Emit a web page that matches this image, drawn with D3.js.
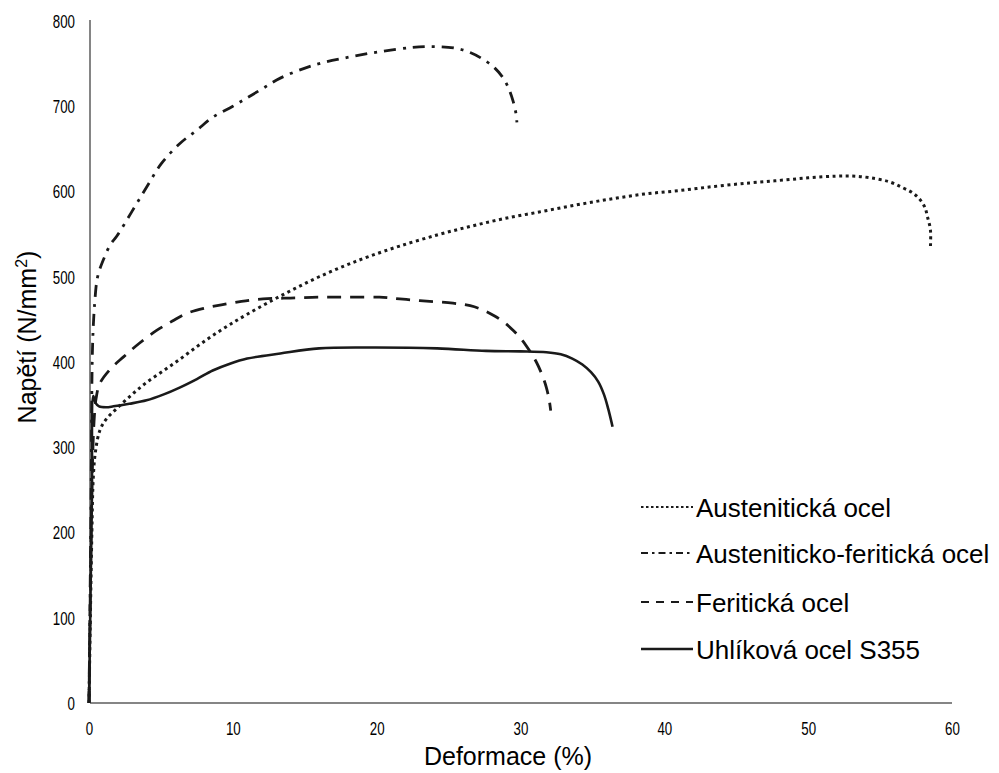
<!DOCTYPE html>
<html>
<head>
<meta charset="utf-8">
<script src="https://cdn.jsdelivr.net/npm/d3@7"></script>
<style>
  html, body { margin: 0; padding: 0; background: #fff; }
  svg { display: block; }
  .tick-label { font-family: "Liberation Sans", Arial, sans-serif; font-size: 18px; fill: #000; }
  .title { font-family: "Liberation Sans", Arial, sans-serif; font-size: 25px; fill: #000; }
  .legend-text { font-family: "Liberation Sans", Arial, sans-serif; font-size: 26px; fill: #000; }
</style>
</head>
<body>
<svg id="chart" width="999" height="773"></svg>
<script>
// ---- Data ----
const seriesNames = ["Austenitická ocel", "Austeniticko-feritická ocel", "Feritická ocel", "Uhlíková ocel S355"];

const austeniticX = [0, 0.2, 0.3, 0.45, 0.76, 1.2, 1.9, 3.0, 4.0, 5.2, 6.3, 7.5, 8.6, 9.8, 11.0, 12.6, 14.3, 16.0, 17.8, 19.5, 21.6, 24.2, 26.5, 28.8, 31.3, 33.8, 36.2, 38.6, 41.0, 43.5, 45.9, 48.0, 50.0, 51.9, 53.3, 54.7, 55.7, 56.5, 57.2, 57.7, 58.1, 58.3, 58.5, 58.5];
const austeniticY = [0, 200, 265, 295, 320, 333, 345, 362, 376, 390, 403, 418, 431, 444, 456, 471, 486, 500, 513, 524, 536, 549, 559, 568, 576, 584, 591, 597, 601, 606, 610, 613, 616, 618, 618, 615, 611, 605, 599, 592, 582, 570, 555, 535];

const duplexX = [0, 0.15, 0.25, 0.4, 0.6, 1.0, 1.5, 1.95, 3.0, 4.0, 5.0, 6.3, 7.5, 8.6, 10.0, 11.0, 12.0, 13.3, 15.6, 17.9, 20.2, 22.5, 24.0, 25.5, 26.5, 27.4, 28.2, 28.8, 29.2, 29.5, 29.7, 29.75];
const duplexY = [0, 250, 420, 470, 500, 520, 538, 548, 577, 605, 632, 656, 672, 687, 700, 710, 720, 733, 748, 757, 764, 769, 770, 768, 763, 755, 745, 733, 720, 705, 690, 681];

const ferriticX = [0, 0.2, 0.35, 0.5, 0.76, 1.5, 2.4, 3.5, 4.7, 5.8, 6.8, 8.0, 9.2, 10.6, 12.1, 14.0, 16.0, 18.0, 20.2, 21.6, 23.0, 25.3, 26.5, 27.4, 28.2, 28.9, 29.5, 30.1, 30.6, 31.1, 31.5, 31.8, 32.0, 32.1];
const ferriticY = [0, 250, 330, 358, 375, 392, 406, 422, 437, 448, 457, 463, 467, 471, 474, 475, 476, 476, 476, 474, 472, 469, 466, 461, 454, 446, 437, 426, 414, 400, 385, 370, 355, 343];

const carbonX = [0, 0.2, 0.3, 0.45, 0.7, 1.2, 1.7, 2.8, 4.0, 5.2, 6.3, 7.5, 8.6, 9.8, 11.0, 13.3, 16.0, 19.5, 24.2, 27.6, 30.0, 31.8, 32.8, 33.6, 34.3, 34.9, 35.4, 35.8, 36.1, 36.4];
const carbonY = [0, 240, 360, 352, 348, 347, 348, 351, 355, 362, 370, 380, 390, 398, 404, 410, 416, 417, 416, 413, 412.5, 411.5, 409, 404, 397, 388, 377, 362, 345, 324];

const xTicks = [0, 10, 20, 30, 40, 50, 60];
const yTicks = [0, 100, 200, 300, 400, 500, 600, 700, 800];

// ---- Build ----
const svg = d3.select("#chart");
const x = d3.scaleLinear().domain([0, 60]).range([89, 952]);
const y = d3.scaleLinear().domain([0, 800]).range([703, 21]);

const styles = [
  { dash: "3,3.6", width: 3 },       // dotted
  { dash: "12,7,3,7", width: 2.8 },  // dash-dot
  { dash: "14,9", width: 2.8 },      // dashed
  { dash: null, width: 2.6 }         // solid
];
const seriesData = [
  austeniticX.map((v, i) => [v, austeniticY[i]]),
  duplexX.map((v, i) => [v, duplexY[i]]),
  ferriticX.map((v, i) => [v, ferriticY[i]]),
  carbonX.map((v, i) => [v, carbonY[i]])
];

const condense = 0.74;

// axes (no tick marks, gray lines)
const xAxis = d3.axisBottom(x).tickValues(xTicks).tickSize(0).tickPadding(0).tickFormat(d3.format("d"));
const yAxis = d3.axisLeft(y).tickValues(yTicks).tickSize(0).tickFormat(d3.format("d"));

const gx = svg.append("g").attr("transform", "translate(0,703)").call(xAxis);
gx.select(".domain").attr("stroke", "#858585").attr("stroke-width", 2).attr("d", `M${x(0)+1},0H${x(60)}`);
gx.selectAll(".tick text").attr("class", "tick-label").attr("dy", null).attr("y", 32)
  .attr("font-family", null).attr("font-size", null)
  .attr("transform", `scale(${condense},1)`);

const gy = svg.append("g").attr("transform", "translate(90,0)").call(yAxis);
gy.select(".domain").attr("stroke", "#858585").attr("stroke-width", 2).attr("d", `M0,${y(800)-1}V${y(0)}`);
gy.selectAll(".tick text").attr("class", "tick-label").attr("x", -15 / condense).attr("dy", "0.36em")
  .attr("font-family", null).attr("font-size", null)
  .attr("transform", `scale(${condense},1)`);

// lines
const line = d3.line().x(d => x(d[0])).y(d => y(d[1])).curve(d3.curveCatmullRom.alpha(0.5));
const order = [3, 2, 0, 1];
order.forEach(i => {
  svg.append("path")
    .datum(seriesData[i])
    .attr("d", line)
    .attr("fill", "none")
    .attr("stroke", "#1a1a1a")
    .attr("stroke-width", styles[i].width)
    .attr("stroke-dasharray", styles[i].dash)
    .attr("stroke-linejoin", "round");
});

// axis titles
svg.append("text").attr("class", "title")
  .attr("x", 508).attr("y", 765).attr("text-anchor", "middle")
  .text("Deformace (%)");

const yt = svg.append("text").attr("class", "title")
  .attr("transform", "translate(36,337) rotate(-90)")
  .attr("text-anchor", "middle");
yt.append("tspan").text("Napětí (N/mm");
yt.append("tspan").attr("dy", -9).attr("font-size", 16).text("2");
yt.append("tspan").attr("dy", 9).text(")");

// legend
const legendY = [507, 553, 602, 649];
const leg = svg.append("g");
seriesNames.forEach((name, i) => {
  leg.append("line")
    .attr("x1", 641).attr("x2", 693)
    .attr("y1", legendY[i]).attr("y2", legendY[i])
    .attr("stroke", "#1a1a1a")
    .attr("stroke-width", i === 3 ? 2.4 : 2.2)
    .attr("stroke-dasharray", i === 0 ? "2.5,2.5" : i === 1 ? "7,4,2.5,4" : i === 2 ? "8,7" : null);
  leg.append("text").attr("class", "legend-text")
    .attr("x", 696).attr("y", legendY[i] + 9.5)
    .text(name);
});
</script>
</body>
</html>
